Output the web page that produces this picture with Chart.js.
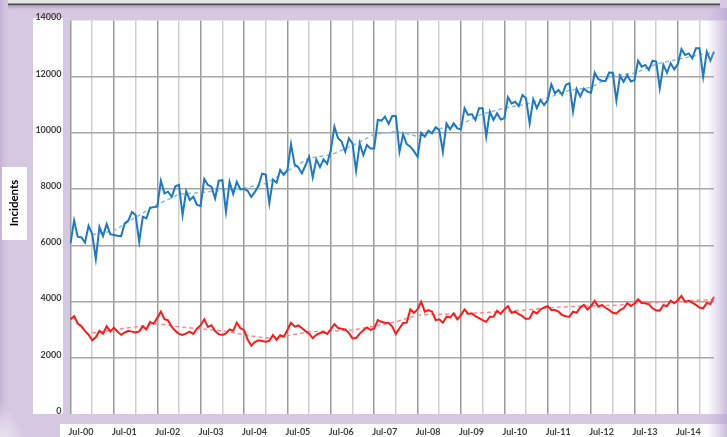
<!DOCTYPE html>
<html>
<head>
<meta charset="utf-8">
<script src="https://cdn.jsdelivr.net/npm/chart.js@4"></script>
<style>
  html, body { margin: 0; padding: 0; background: #d5c8e1; }
  #wrap { width: 727px; height: 437px; position: relative; }
</style>
</head>
<body>
<div id="wrap"><canvas id="myChart"></canvas></div>
<script>
// monthly incidents, first month Jul-00
const blue = [
    6070, 6880, 6300, 6290, 6100, 6700, 6400, 5520, 6660, 6330, 6760, 6400,
    6370, 6340, 6330, 6780, 6880, 7190, 7080, 6130, 7020, 6960, 7340, 7360,
    7380, 8300, 7850, 7910, 7730, 8100, 8150, 7080, 7930, 7610, 7730, 7440,
    7400, 8360, 8150, 8090, 7670, 8300, 8320, 7200, 8260, 7830, 8260, 7990,
    8010, 7940, 7720, 7900, 8120, 8550, 8520, 7500, 8340, 8230, 8680, 8510,
    8680, 9600, 8870, 8780, 8560, 8850, 9150, 8420, 9060, 8780, 9060, 8900,
    9390, 10220, 9810, 9690, 9330, 9810, 9630, 8650, 9630, 9210, 9570, 9450,
    9450, 10460, 10440, 10580, 10320, 10610, 10600, 9330, 9950, 9600, 9510, 9350,
    9150, 10000, 9870, 10080, 9990, 10200, 10100, 9330, 10340, 10130, 10340, 10160,
    10130, 10880, 10640, 10670, 10460, 10880, 10880, 9870, 10760, 10460, 10700, 10480,
    10520, 11270, 11050, 11110, 10960, 11350, 11230, 10340, 11200, 10880, 11170, 10990,
    11170, 11730, 11410, 11530, 11350, 11710, 11770, 10760, 11560, 11300, 11580, 11470,
    11430, 12140, 11910, 11860, 11850, 12150, 12140, 11150, 12030, 11820, 12060, 11830,
    11880, 12570, 12360, 12420, 12240, 12570, 12540, 11590, 12420, 12140, 12480, 12260,
    12450, 12980, 12770, 12830, 12660, 13010, 13010, 12000, 12890, 12570, 12890
];

const red = [
    3370, 3480, 3220, 3120, 2960, 2820, 2620, 2730, 2960, 2860, 3120, 2940,
    3070, 2930, 2820, 2900, 2960, 2930, 2900, 2940, 3120, 3010, 3280, 3210,
    3420, 3640, 3370, 3330, 3100, 2960, 2850, 2810, 2870, 2930, 2850, 3040,
    3160, 3370, 3100, 3160, 2950, 2840, 2810, 2870, 3010, 2960, 3250, 3050,
    2990, 2650, 2430, 2560, 2620, 2600, 2570, 2600, 2810, 2640, 2800, 2750,
    2990, 3250, 3110, 3150, 3060, 2950, 2860, 2700, 2820, 2880, 2920, 2850,
    3010, 3200, 3060, 3030, 3010, 2880, 2690, 2700, 2860, 2980, 3080, 2990,
    3040, 3340, 3280, 3250, 3240, 3110, 2850, 3050, 3240, 3250, 3720, 3600,
    3720, 3990, 3640, 3700, 3640, 3340, 3370, 3250, 3460, 3440, 3580, 3370,
    3520, 3720, 3560, 3580, 3480, 3410, 3340, 3280, 3460, 3460, 3670, 3560,
    3720, 3840, 3600, 3640, 3550, 3480, 3380, 3400, 3650, 3580, 3720, 3790,
    3840, 3700, 3700, 3640, 3520, 3480, 3460, 3640, 3600, 3790, 3880, 3720,
    3840, 4030, 3820, 3880, 3780, 3700, 3600, 3580, 3700, 3760, 3940, 3840,
    3930, 4080, 3950, 3940, 3900, 3760, 3680, 3680, 3870, 3840, 4030, 3940,
    4050, 4200, 3990, 4030, 3960, 3880, 3790, 3760, 3950, 3910, 4170
];

const trendAt = [6, 12, 18, 24, 30, 36, 42, 48, 54, 60, 66, 72, 78, 84, 90,
    96, 102, 108, 114, 120, 126, 132, 138, 144, 150, 156, 162, 168, 174, 178];
const blueTrend = [6380, 6520, 7000, 7450, 7820, 7880, 7960, 8040, 8200, 8650, 9100, 9220, 9550, 9950, 10050,
    9880, 10150, 10300, 10680, 10880, 11020, 11250, 11520, 11620, 12050, 12120, 12450, 12620, 12780, 12850];
const redTrend = [2880, 2990, 3100, 3220, 3100, 3030, 2960, 2820, 2700, 2780, 2930, 2950, 2990, 3120, 3280,
    3520, 3550, 3560, 3600, 3650, 3700, 3780, 3820, 3850, 3860, 3930, 3970, 4010, 4050, 4080];

const yTicks = [0, 2000, 4000, 6000, 8000, 10000, 12000, 14000];
const yTitle = "Incidents";

const monthNames = ["Jan","Feb","Mar","Apr","May","Jun","Jul","Aug","Sep","Oct","Nov","Dec"];
const months = blue.map((v, i) => {
    const t = 6 + i;
    return monthNames[t % 12] + "-" + String(Math.floor(t / 12)).padStart(2, "0");
});

function trendPoints(vals) {
    return vals.map((v, i) => ({ x: months[trendAt[i]], y: v }));
}

const frame = {
    id: "frame",
    beforeDraw(chart) {
        const { ctx, chartArea: a, width: w, height: h } = chart;
        ctx.save();
        ctx.fillStyle = "#d5c8e1";
        ctx.fillRect(0, 0, w, h);
        // left edge shading
        let g = ctx.createLinearGradient(0, 0, 10, 0);
        g.addColorStop(0, "#c4b4d5");
        g.addColorStop(1, "rgba(213,200,225,0)");
        ctx.fillStyle = g;
        ctx.fillRect(0, 0, 10, h);
        // bottom-left curl
        g = ctx.createRadialGradient(-40, 460, 40, -40, 460, 70);
        g.addColorStop(0, "rgba(250,248,252,0.85)");
        g.addColorStop(1, "rgba(250,248,252,0)");
        ctx.fillStyle = g;
        ctx.fillRect(0, 360, 40, h - 360);
        // top strip with shadow
        ctx.fillStyle = "#e4e4e4";
        ctx.fillRect(8, 0, 712, 4);
        ctx.fillStyle = "#4a4a4a";
        ctx.fillRect(8, 3.5, 712, 1.5);
        g = ctx.createLinearGradient(0, 5, 0, 11);
        g.addColorStop(0, "rgba(90,80,100,0.45)");
        g.addColorStop(1, "rgba(213,200,225,0)");
        ctx.fillStyle = g;
        ctx.fillRect(8, 5, 712, 6);
        // white panels
        ctx.fillStyle = "#ffffff";
        ctx.fillRect(33, 18, 30, 396);
        ctx.fillRect(60, 424, w - 60, h - 424);
        ctx.fillRect(a.left, a.top, w - a.left, a.bottom - a.top);
        ctx.fillRect(2, 167, 25, 73);
        ctx.restore();
    },
    afterDraw(chart) {
        const { ctx, width: w, height: h } = chart;
        ctx.save();
        // right curl tint
        let g = ctx.createLinearGradient(706, 0, w, 0);
        g.addColorStop(0, "rgba(200,185,220,0)");
        g.addColorStop(1, "rgba(185,165,210,0.75)");
        ctx.fillStyle = g;
        ctx.fillRect(706, 8, w - 706, h - 8);
        // title
        ctx.translate(14.5, 203);
        ctx.rotate(-Math.PI / 2);
        ctx.fillStyle = "#000000";
        ctx.font = "bold 11.5px Lato";
        ctx.textAlign = "center";
        ctx.textBaseline = "middle";
        ctx.fillText(yTitle, 0, 0);
        ctx.restore();
    }
};

const ctx = document.getElementById("myChart").getContext("2d");
const myChart = new Chart(ctx, {
    type: "line",
    data: {
        labels: months,
        datasets: [
            { data: blue, borderColor: "#1e78c8", borderWidth: 2 },
            { data: red, borderColor: "#ff1a1a", borderWidth: 2 },
            { data: trendPoints(blueTrend), borderColor: "#8fbbe4", borderWidth: 1.5, borderDash: [4, 3], spanGaps: true },
            { data: trendPoints(redTrend), borderColor: "#ff8a8a", borderWidth: 1.5, borderDash: [4, 3], spanGaps: true }
        ]
    },
    options: {
        responsive: true,
        maintainAspectRatio: false,
        animation: false,
        layout: { padding: { top: 20.5, right: 2, left: 0, bottom: 0 } },
        elements: { point: { radius: 0 }, line: { tension: 0 } },
        plugins: { legend: { display: false }, tooltip: { enabled: false } },
        scales: {
            x: {
                offset: false,
                border: { display: false },
                grid: {
                    drawTicks: false,
                    lineWidth: 1.5,
                    color: (c) => c.index % 12 === 0 ? "#9a9a9a" : (c.index % 6 === 0 ? "#cfcfcf" : "rgba(0,0,0,0)")
                },
                ticks: {
                    autoSkip: false,
                    maxRotation: 0,
                    minRotation: 0,
                    padding: 13,
                    labelOffset: 10.5,
                    color: "#404040",
                    font: { family: "Lato", size: 9, weight: "bold" },
                    callback: function (v, i) { return i % 12 === 0 ? this.getLabelForValue(v) : ""; }
                },
                afterFit: (s) => { s.height = 23; }
            },
            y: {
                min: 0,
                max: 14000,
                border: { display: false },
                grid: {
                    drawTicks: false,
                    lineWidth: 1.5,
                    color: (c) => (c.tick.value === 0 || c.tick.value === 14000) ? "rgba(0,0,0,0)" : "#a6a6a6"
                },
                afterBuildTicks: (s) => { s.ticks = yTicks.map(v => ({ value: v })); },
                ticks: {
                    padding: 9,
                    labelOffset: -3,
                    color: "#404040",
                    font: { family: "Lato", size: 9, weight: "bold" },
                    callback: (v) => String(v)
                },
                afterFit: (s) => { s.width = 70.5; }
            }
        }
    },
    plugins: [frame]
});
</script>
</body>
</html>
